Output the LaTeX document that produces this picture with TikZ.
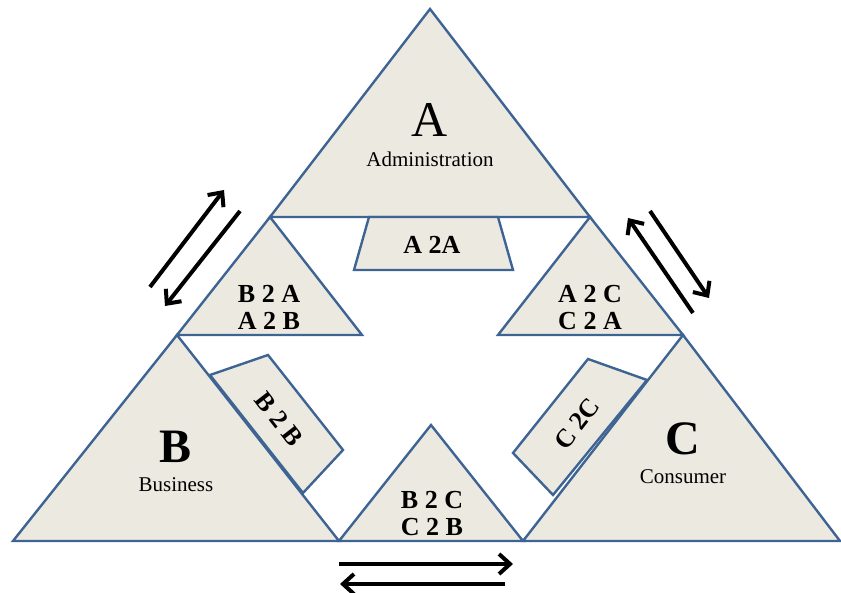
\documentclass[tikz,border=0pt]{standalone}
\usepackage{fontspec}
\setmainfont{Liberation Serif}
\usetikzlibrary{arrows.meta}
\definecolor{edgeblue}{RGB}{62,100,148}
\definecolor{paper}{RGB}{236,233,224}
\tikzset{
    tri-box/.style = {draw=edgeblue, fill=paper, line width=2.4pt, line join=miter},
    big-letter/.style = {font=\fontsize{50}{50}\selectfont, anchor=base},
    big-bold/.style = {font=\bfseries\fontsize{48}{48}\selectfont, anchor=base},
    sub-label/.style = {font=\fontsize{21}{21}\selectfont, anchor=base},
    pair-label/.style = {font=\bfseries\fontsize{26}{27}\selectfont, align=center, inner sep=0pt},
    flow-arrow/.style = {line width=4pt, -{Straight Barb[length=11pt,width=20pt]}},
}

\begin{document}
\begin{tikzpicture}[x=1pt, y=-1pt]
\useasboundingbox (0,0) rectangle (841,593);
% big triangles
\draw[tri-box] (430,9) -- (590,217) -- (270,217) -- cycle;
\draw[tri-box] (177,335) -- (339,541) -- (13,541) -- cycle;
\draw[tri-box] (683,335) -- (840,541) -- (523,541) -- cycle;
% small triangles in between
\draw[tri-box] (270,217) -- (362,335) -- (177,335) -- cycle;
\draw[tri-box] (590,217) -- (683,335) -- (498,335) -- cycle;
\draw[tri-box] (431,425) -- (523,541) -- (339,541) -- cycle;
% side pieces
\draw[tri-box] (369,217) -- (498,217) -- (513,270) -- (354,270) -- cycle;
\draw[tri-box] (210,375) -- (268,355) -- (343,450) -- (303,493) -- cycle;
\draw[tri-box] (588,359) -- (647,380) -- (553,495) -- (513,453) -- cycle;

\node[big-letter] (a-letter) at (430,137) {A};
\node[sub-label] (a-name) at (430,167) {Administration};
\node[big-bold] (b-letter) at (176,463) {B};
\node[sub-label] (b-name) at (176,491) {Business};
\node[big-bold] (c-letter) at (683,455) {C};
\node[sub-label] (c-name) at (683,483) {Consumer};

\node[pair-label] (b2a) at (269,307) {B 2 A\\A 2 B};
\node[pair-label] (a2c) at (590,308) {A 2 C\\C 2 A};
\node[pair-label] (b2c) at (432,514) {B 2 C\\C 2 B};
\node[pair-label] (a2a) at (432,245) {A 2A};
\node[pair-label, rotate=-52] (b2b) at (279,419) {B 2 B};
\node[pair-label, rotate=52] (c2c) at (577,424) {C 2C};

% arrows
\coordinate (ab-up-start) at (150,287);
\coordinate (ab-up-end) at (224,190);
\coordinate (ab-down-start) at (240,211);
\coordinate (ab-down-end) at (165,306);
\coordinate (ac-up-start) at (693,313);
\coordinate (ac-up-end) at (628,218);
\coordinate (ac-down-start) at (650,211);
\coordinate (ac-down-end) at (709,298);
\coordinate (bc-right-start) at (339,564);
\coordinate (bc-right-end) at (513,564);
\coordinate (bc-left-start) at (505,584);
\coordinate (bc-left-end) at (340,584);
\draw[flow-arrow] (ab-up-start) -- (ab-up-end);
\draw[flow-arrow] (ab-down-start) -- (ab-down-end);
\draw[flow-arrow] (ac-up-start) -- (ac-up-end);
\draw[flow-arrow] (ac-down-start) -- (ac-down-end);
\draw[flow-arrow] (bc-right-start) -- (bc-right-end);
\draw[flow-arrow] (bc-left-start) -- (bc-left-end);
\end{tikzpicture}
\end{document}
